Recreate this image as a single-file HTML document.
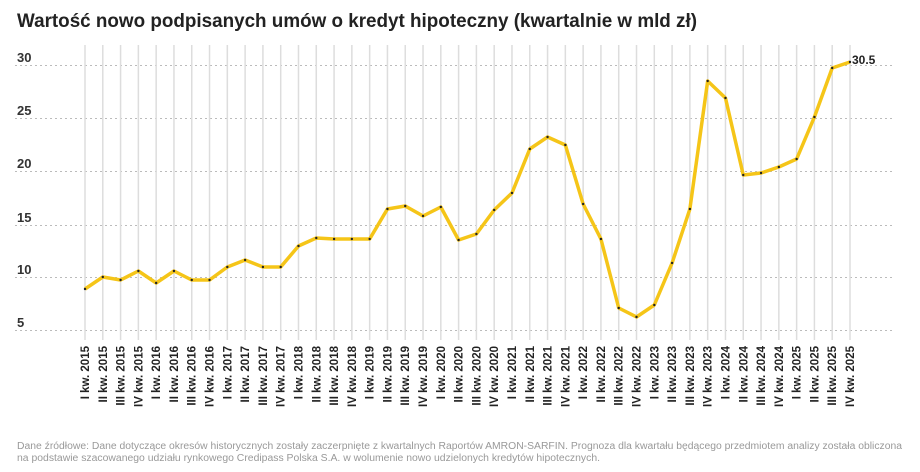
<!DOCTYPE html>
<html><head><meta charset="utf-8"><style>
body{margin:0;background:#fff}
svg{display:block}
</style></head><body>
<svg width="920" height="472" xmlns="http://www.w3.org/2000/svg" font-family="Liberation Sans, sans-serif">
<text x="17" y="27" font-size="19" font-weight="bold" fill="#222" textLength="680" lengthAdjust="spacingAndGlyphs">Wartość nowo podpisanych umów o kredyt hipoteczny (kwartalnie w mld zł)</text>
<g id="grid"></g>
<g id="labels"></g>
<g font-size="13" font-weight="bold" fill="#333">
<text x="17" y="62">30</text><text x="17" y="115">25</text><text x="17" y="168">20</text><text x="17" y="222">15</text><text x="17" y="274">10</text><text x="17" y="327">5</text>
</g>
<g stroke="#bbb" stroke-width="1" stroke-dasharray="2,3">
<line x1="15" x2="895" y1="65.5" y2="65.5"/><line x1="15" x2="895" y1="118.5" y2="118.5"/><line x1="15" x2="895" y1="171.5" y2="171.5"/><line x1="15" x2="895" y1="225.5" y2="225.5"/><line x1="15" x2="895" y1="277.5" y2="277.5"/><line x1="15" x2="895" y1="330.5" y2="330.5"/>
</g>
<g id="verts" stroke="#ddd" stroke-width="1.5"></g>
<polyline id="line" fill="none" stroke="#f5c518" stroke-width="3.5" stroke-linejoin="round"/>
<g id="dots" fill="#222"></g>
<text x="852" y="64" font-size="12" font-weight="bold" fill="#222">30.5</text>
<g id="xl" font-size="11.5" font-weight="bold" fill="#222"></g>
<text x="17" y="449" font-size="10" fill="#999" textLength="885" lengthAdjust="spacingAndGlyphs">Dane źródłowe:  Dane dotyczące okresów historycznych zostały zaczerpnięte z kwartalnych Raportów AMRON-SARFIN. Prognoza dla kwartału będącego przedmiotem analizy została obliczona</text>
<text x="17" y="461" font-size="10" fill="#999" textLength="583" lengthAdjust="spacingAndGlyphs">na podstawie szacowanego udziału rynkowego Credipass Polska S.A. w wolumenie nowo udzielonych kredytów hipotecznych.</text>
<script>
var ys=[289,277,280,271,283,271,280,280,267,260,267,267,246,238,239,239,239,209,206,216,207,240,234,210,193,149,137,145,204,239,308,317,305,263,209,81,98,175,173,167,159,117,68,62];
var q=["I","II","III","IV"];var ns="http://www.w3.org/2000/svg";
var v=document.getElementById("verts"),d=document.getElementById("dots"),xl=document.getElementById("xl");var pts=[];
for(var i=0;i<44;i++){var x=85+i*765/43;pts.push(x+","+ys[i]);
var l=document.createElementNS(ns,"line");l.setAttribute("x1",x);l.setAttribute("x2",x);l.setAttribute("y1",45);l.setAttribute("y2",340);v.appendChild(l);
var c=document.createElementNS(ns,"circle");c.setAttribute("cx",x);c.setAttribute("cy",ys[i]);c.setAttribute("r",1.2);d.appendChild(c);
var t=document.createElementNS(ns,"text");t.setAttribute("transform","translate("+(x+4)+",346) rotate(-90)");t.setAttribute("text-anchor","end");t.textContent=q[i%4]+" kw. "+(2015+Math.floor(i/4));xl.appendChild(t);}
document.getElementById("line").setAttribute("points",pts.join(" "));
</script>
</svg>
</body></html>
